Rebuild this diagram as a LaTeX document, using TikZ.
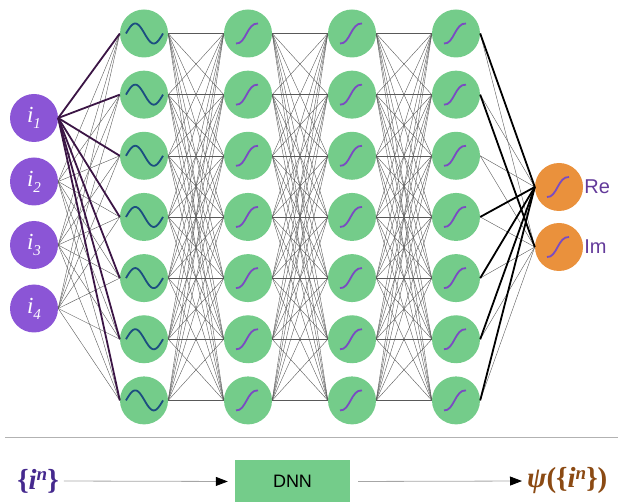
\documentclass[tikz,border=0pt]{standalone}
\usepackage{fontspec}
\setmainfont{Liberation Serif}
\newfontfamily\labsans{Liberation Sans}
\usetikzlibrary{arrows.meta}
\definecolor{inpurple}{HTML}{8B55D6}
\definecolor{nngreen}{HTML}{74CC8A}
\definecolor{nnorange}{HTML}{EA913C}
\definecolor{sinecol}{HTML}{1C4E80}
\definecolor{sigcol}{HTML}{7A4BC2}
\definecolor{plum}{HTML}{3B1545}
\definecolor{labcol}{HTML}{633A9A}
\definecolor{srccol}{HTML}{45298E}
\definecolor{tgtcol}{HTML}{8B4A13}
\newcommand{\inlab}[1]{{\fontsize{23}{23}\selectfont\itshape i\raisebox{-6pt}{\fontsize{15}{15}\selectfont #1}}}
\newcommand{\supn}{\raisebox{8.5pt}{\fontsize{19}{19}\selectfont\bfseries\itshape n}}
\newcommand{\setin}{{\upshape\{}\itshape i\supn{\upshape\}}}
\begin{document}
\begin{tikzpicture}[x=1pt,y=-1pt,
  neuron/.style={circle, minimum size=48pt, inner sep=0pt, draw=none},
  inneur/.style={neuron, fill=inpurple, text=white},
  hidneur/.style={neuron, fill=nngreen},
  outneur/.style={neuron, fill=nnorange},
  weak/.style={draw=black!65, line width=0.4pt},
  strongin/.style={draw=plum, line width=1.8pt},
  strongout/.style={draw=black, line width=1.8pt},
  sinestyle/.style={draw=sinecol, line width=1.8pt},
  sigstyle/.style={draw=sigcol, line width=1.8pt},
  outlab/.style={text=labcol, font=\labsans\fontsize{20}{20}\selectfont, anchor=west, inner sep=1pt},
  eqlab/.style={font=\fontsize{29}{29}\selectfont\bfseries, inner sep=0pt},
  dnnbox/.style={fill=nngreen, minimum width=115pt, minimum height=43pt, inner sep=0pt, font=\labsans\fontsize{18}{18}\selectfont},
  flow/.style={draw=black!35, line width=0.8pt, -{Triangle[length=12pt,width=9pt,fill=black,color=black]}}
]
\useasboundingbox (0,0) rectangle (618,502);
% input nodes
\foreach \r in {1,...,4}
  \node[inneur] (in\r) at (34, {118+63.5*(\r-1)}) {\inlab{\r}};
% hidden nodes
\foreach \c/\px in {1/144,2/248,3/352,4/456}
  \foreach \r in {1,...,7}
    \node[hidneur] (h\c\r) at (\px, {33.5+61.15*(\r-1)}) {};
% output nodes
\node[outneur] (out1) at (559,187) {};
\node[outneur] (out2) at (559,247) {};
\node[outlab] (relab) at (out1.east) {Re};
\node[outlab] (imlab) at (out2.east) {Im};
% activation glyphs
\foreach \r in {1,...,7}{
  \begin{scope}[shift={(h1\r)}]
    \draw[sinestyle] plot[domain=-18:19, samples=50, smooth] (\x, {-10*sin(360*(\x+18)/37)});
  \end{scope}
}
\foreach \c in {2,3,4}
  \foreach \r in {1,...,7}{
    \begin{scope}[shift={(h\c\r)}]
      \draw[sigstyle] (-12,10) .. controls (-2,11) and (-1,-11) .. (10,-10);
    \end{scope}
  }
\foreach \o in {1,2}{
  \begin{scope}[shift={(out\o)}]
    \draw[sigstyle] (-12,10) .. controls (-2,11) and (-1,-11) .. (10,-10);
  \end{scope}
}
% input -> hidden 1
\foreach \i in {2,3,4}
  \foreach \r in {1,...,7}
    \draw[weak] (in\i.east) -- (h1\r.west);
\foreach \r in {1,...,7}
  \draw[strongin] (in1.east) -- (h1\r.west);
% hidden -> hidden
\foreach \c [evaluate=\c as \d using int(\c+1)] in {1,2,3}
  \foreach \r in {1,...,7}
    \foreach \s in {1,...,7}
      \draw[weak] (h\c\r.east) -- (h\d\s.west);
% hidden 4 -> outputs
\foreach \r in {1,...,7}
  \foreach \o in {1,2}
    \draw[weak] (h4\r.east) -- (out\o.west);
\foreach \r/\o in {1/1,2/2,4/1,5/1,6/1,7/1}
  \draw[strongout] (h4\r.east) -- (out\o.west);
% separator
\draw[draw=black!30, line width=1pt] (5,437) -- (618,437);
% bottom flow
\node[eqlab, text=srccol] (src) at (38,481) {\setin};
\node[dnnbox] (dnn) at (292.5,481.5) {DNN};
\node[eqlab, text=tgtcol, anchor=west] (tgt) at (527,481) {\itshape ψ{\upshape(}\setin{\upshape)}};
\draw[flow, shorten <=5pt, shorten >=7pt] (src.east) -- (dnn.west);
\draw[flow, shorten <=8pt, shorten >=5pt] (dnn.east) -- (tgt.west);
\end{tikzpicture}
\end{document}
